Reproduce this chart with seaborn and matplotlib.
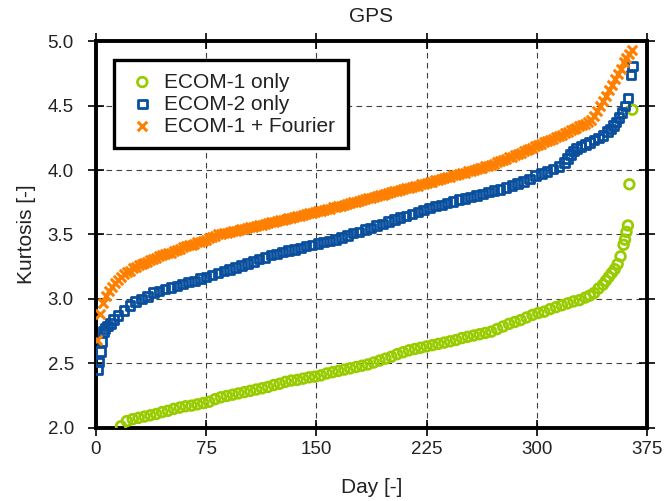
import matplotlib
matplotlib.use("Agg")
import matplotlib.pyplot as plt
import seaborn as sns
from matplotlib.ticker import FormatStrFormatter

# ---------------- data (sorted daily kurtosis) ----------------
# ECOM-1 only (values below 2.0 are off-scale)
day_ecom1 = list(range(17, 334, 4)) + [336, 339, 342, 345, 347, 349, 351, 353,
                                       355, 357, 359, 360, 361, 362, 363, 365]
ecom1_only = [
    2.01, 2.05, 2.065, 2.075, 2.085, 2.095, 2.105, 2.12, 2.13, 2.145,
    2.155, 2.165, 2.17, 2.18, 2.19, 2.20, 2.22, 2.235, 2.245, 2.255,
    2.265, 2.275, 2.285, 2.295, 2.305, 2.315, 2.33, 2.34, 2.355, 2.365,
    2.37, 2.38, 2.39, 2.395, 2.405, 2.42, 2.43, 2.44, 2.45, 2.46,
    2.47, 2.48, 2.49, 2.505, 2.52, 2.535, 2.55, 2.57, 2.585, 2.60,
    2.61, 2.62, 2.63, 2.64, 2.65, 2.66, 2.67, 2.68, 2.695, 2.705,
    2.715, 2.725, 2.735, 2.745, 2.765, 2.785, 2.805, 2.82, 2.835, 2.855,
    2.875, 2.89, 2.90, 2.92, 2.935, 2.95, 2.965, 2.98, 2.99, 3.01,
    3.025, 3.045, 3.08, 3.11, 3.14, 3.17, 3.20, 3.23,
    3.27, 3.33, 3.42, 3.46, 3.52, 3.57, 3.89, 4.47,
]

# ECOM-2 only
day_ecom2 = [1, 2, 3, 4, 5, 6, 8, 10, 12] + list(range(15, 320, 4)) + [
    321, 323, 325, 327, 330, 333, 336, 339, 342, 345,
    348, 350, 352, 354, 356, 358, 360, 362, 364, 365]
ecom2_only = [
    2.45, 2.51, 2.59, 2.67, 2.745, 2.77, 2.79, 2.81, 2.84,
    2.87, 2.91, 2.95, 2.98, 3.00, 3.02, 3.05, 3.06, 3.075, 3.09,
    3.10, 3.115, 3.13, 3.14, 3.16, 3.17, 3.185, 3.20, 3.215, 3.23,
    3.245, 3.26, 3.275, 3.29, 3.31, 3.32, 3.34, 3.35, 3.365, 3.375,
    3.385, 3.395, 3.41, 3.42, 3.43, 3.44, 3.45, 3.46, 3.475, 3.49,
    3.51, 3.52, 3.54, 3.55, 3.57, 3.58, 3.60, 3.615, 3.63, 3.645,
    3.66, 3.675, 3.69, 3.705, 3.72, 3.73, 3.745, 3.755, 3.77, 3.78,
    3.79, 3.805, 3.815, 3.83, 3.84, 3.85, 3.865, 3.88, 3.895, 3.91,
    3.93, 3.96, 3.975, 3.99, 4.01, 4.03, 4.06,
    4.09, 4.12, 4.15, 4.17, 4.185, 4.20, 4.215, 4.235, 4.25, 4.27,
    4.30, 4.32, 4.345, 4.375, 4.41, 4.45, 4.50, 4.56, 4.74, 4.81,
]

# ECOM-1 + Fourier (every second day)
day_fourier = list(range(1, 366, 2))
ecom1_fourier = [
    2.68, 2.88, 2.97, 3.02, 3.06, 3.09, 3.12, 3.15, 3.17, 3.19,
    3.21, 3.22, 3.24, 3.25, 3.26, 3.27, 3.28, 3.29, 3.30, 3.31,
    3.32, 3.33, 3.34, 3.35, 3.355, 3.36, 3.37, 3.38, 3.39, 3.40,
    3.41, 3.415, 3.42, 3.43, 3.44, 3.445, 3.45, 3.46, 3.47, 3.48,
    3.49, 3.50, 3.505, 3.51, 3.515, 3.52, 3.525, 3.53, 3.535, 3.54,
    3.545, 3.55, 3.555, 3.56, 3.565, 3.57, 3.575, 3.58, 3.59, 3.595,
    3.60, 3.605, 3.61, 3.615, 3.62, 3.625, 3.63, 3.635, 3.64, 3.645,
    3.65, 3.66, 3.665, 3.67, 3.675, 3.68, 3.685, 3.69, 3.695, 3.70,
    3.71, 3.715, 3.72, 3.725, 3.73, 3.74, 3.745, 3.75, 3.755, 3.76,
    3.77, 3.775, 3.78, 3.785, 3.79, 3.80, 3.805, 3.81, 3.815, 3.82,
    3.83, 3.835, 3.84, 3.845, 3.85, 3.86, 3.865, 3.87, 3.875, 3.88,
    3.89, 3.895, 3.90, 3.905, 3.91, 3.92, 3.925, 3.93, 3.94, 3.945,
    3.95, 3.96, 3.965, 3.97, 3.975, 3.98, 3.99, 3.995, 4.00, 4.01,
    4.015, 4.02, 4.03, 4.035, 4.04, 4.05, 4.06, 4.07, 4.08, 4.09,
    4.10, 4.105, 4.115, 4.125, 4.135, 4.145, 4.155, 4.165, 4.175, 4.185,
    4.195, 4.205, 4.215, 4.225, 4.235, 4.245, 4.255, 4.265, 4.275, 4.285,
    4.30, 4.31, 4.32, 4.33, 4.34, 4.35, 4.36, 4.375, 4.39, 4.42,
    4.46, 4.50, 4.54, 4.58, 4.62, 4.66, 4.71, 4.75, 4.79, 4.84,
    4.87, 4.90, 4.93,
]

labels = ["ECOM-1 only", "ECOM-2 only", "ECOM-1 + Fourier"]
colors = ["#99cc00", "#0a4f9e", "#ff8000"]
x_ticks = [0, 75, 150, 225, 300, 375]
y_ticks = [2.0, 2.5, 3.0, 3.5, 4.0, 4.5, 5.0]

# ---------------- style ----------------
sns.set_theme(style="white")
plt.rcParams["font.family"] = ["Liberation Sans", "DejaVu Sans"]

fig = plt.figure(figsize=(6.68, 5.01), dpi=100)
ax = fig.add_axes([0.1437, 0.1467, 0.8249, 0.7705])

sns.scatterplot(x=day_ecom1, y=ecom1_only, marker="o", s=48, color=colors[0],
                facecolor="none", edgecolor=colors[0], linewidth=2.0,
                label=labels[0], ax=ax, zorder=3)
sns.scatterplot(x=day_ecom2, y=ecom2_only, marker="s", s=38, color=colors[1],
                facecolor="none", edgecolor=colors[1], linewidth=2.0,
                label=labels[1], ax=ax, zorder=3)
sns.scatterplot(x=day_fourier, y=ecom1_fourier, marker="x", s=46, color=colors[2],
                linewidth=2.2, label=labels[2], ax=ax, zorder=3)

ax.set_xlim(0, 375)
ax.set_ylim(2.0, 5.0)
ax.set_xticks(x_ticks)
ax.set_yticks(y_ticks)
ax.yaxis.set_major_formatter(FormatStrFormatter("%.1f"))

ax.grid(True, color="#404040", linestyle=(0, (5, 4)), linewidth=0.8)
ax.set_axisbelow(True)

for sp in ax.spines.values():
    sp.set_visible(True)
    sp.set_color("black")
    sp.set_linewidth(2.8)

ax.tick_params(axis="both", which="major", direction="inout", length=12, width=1.2,
               top=True, right=True, bottom=True, left=True,
               labeltop=False, labelright=False,
               labelsize=13.5, labelcolor="#222222", color="black")
ax.tick_params(axis="x", pad=4)
ax.tick_params(axis="y", pad=10)

ax.set_xlabel("Day [-]", fontsize=15, color="#222222", labelpad=14)
ax.set_ylabel("Kurtosis [-]", fontsize=15, color="#222222", labelpad=8)
ax.set_title("GPS", fontsize=15, color="#222222", pad=14)

leg = ax.legend(loc="upper left", bbox_to_anchor=(0.033, 0.952), borderaxespad=0,
                fontsize=15, frameon=True, fancybox=False, framealpha=1,
                edgecolor="black", borderpad=0.6, labelspacing=0.15,
                handlelength=1.5, handletextpad=0.3, markerscale=1.0)
leg.get_frame().set_linewidth(2.4)
for t in leg.get_texts():
    t.set_color("#222222")

fig.savefig("out.png", dpi=100)
